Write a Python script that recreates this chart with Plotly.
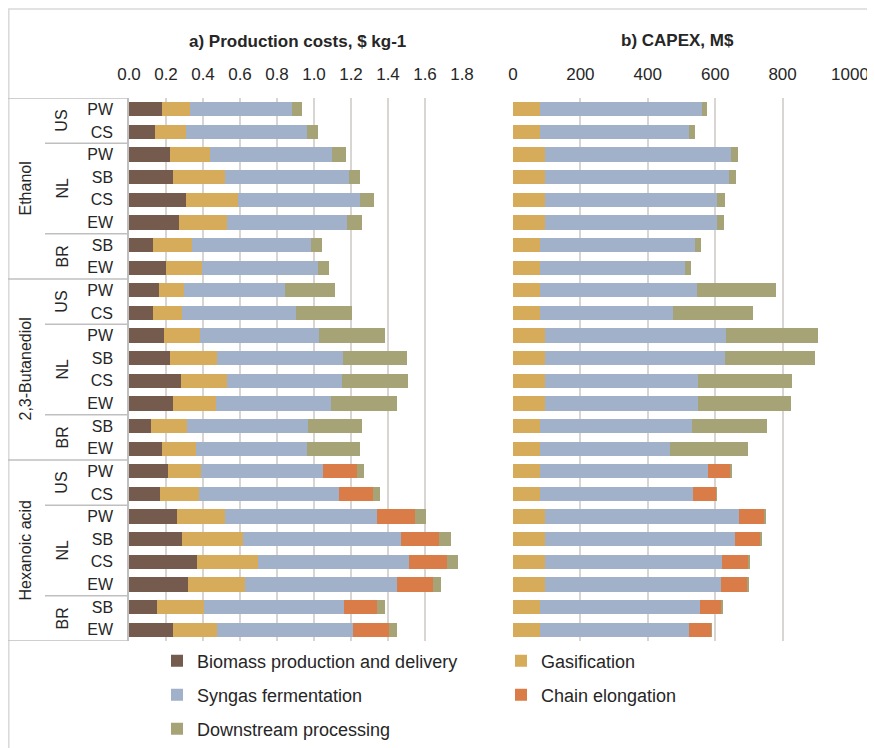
import plotly.graph_objects as go
from plotly.subplots import make_subplots

# categorias (de arriba a abajo)
productos = ["Ethanol", "2,3-Butanediol", "Hexanoic acid"]
regiones = ["US", "NL", "BR"]
materias = {"US": ["PW", "CS"], "NL": ["PW", "SB", "CS", "EW"], "BR": ["SB", "EW"]}

filas = []
for p in productos:
    for r in regiones:
        for m in materias[r]:
            filas.append((p, r, m))
etiquetas_fila = [m for (_, _, m) in filas]

componentes = ["Biomass production and delivery", "Gasification", "Syngas fermentation",
               "Chain elongation", "Downstream processing"]
colores = ["#755B4D", "#D6AB5A", "#A0B1C9", "#D97C47", "#A6A377"]

# a) costes de produccion, $ kg-1
cost_biomasa = [0.18, 0.14, 0.22, 0.24, 0.31, 0.27, 0.13, 0.20,
                0.16, 0.13, 0.19, 0.22, 0.28, 0.24, 0.12, 0.18,
                0.21, 0.17, 0.26, 0.285, 0.366, 0.32, 0.153, 0.24]
cost_gasif = [0.15, 0.17, 0.216, 0.28, 0.28, 0.26, 0.21, 0.196,
              0.135, 0.155, 0.196, 0.257, 0.25, 0.23, 0.195, 0.18,
              0.18, 0.207, 0.26, 0.333, 0.33, 0.306, 0.25, 0.234]
cost_syngas = [0.55, 0.65, 0.66, 0.67, 0.66, 0.65, 0.645, 0.627,
               0.55, 0.62, 0.643, 0.68, 0.62, 0.62, 0.655, 0.60,
               0.656, 0.76, 0.82, 0.85, 0.82, 0.82, 0.76, 0.737]
cost_cadena = [0, 0, 0, 0, 0, 0, 0, 0,
               0, 0, 0, 0, 0, 0, 0, 0,
               0.185, 0.18, 0.205, 0.21, 0.204, 0.198, 0.18, 0.195]
cost_downstream = [0.056, 0.06, 0.078, 0.058, 0.077, 0.08, 0.057, 0.058,
                   0.27, 0.30, 0.355, 0.344, 0.36, 0.36, 0.29, 0.29,
                   0.04, 0.04, 0.058, 0.06, 0.058, 0.042, 0.04, 0.04]

# b) CAPEX, M$
capex_gasif = [81, 81, 94, 94, 94, 94, 79, 79,
               81, 81, 94, 94, 94, 94, 79, 79,
               81, 81, 94, 94, 94, 94, 79, 79]
capex_syngas = [479, 440, 554, 548, 512, 510, 462, 430,
                465, 395, 538, 535, 456, 455, 452, 386,
                499, 453, 578, 564, 526, 523, 475, 442]
capex_cadena = [0, 0, 0, 0, 0, 0, 0, 0,
                0, 0, 0, 0, 0, 0, 0, 0,
                65, 70, 73, 76, 79, 79, 65, 67]
capex_downstream = [17, 20, 21, 21, 22, 22, 18, 19,
                    235, 237, 272, 266, 278, 277, 223, 232,
                    2, 1, 5, 4, 3, 3, 2, 2]

ticks_coste = [0.0, 0.2, 0.4, 0.6, 0.8, 1.0, 1.2, 1.4, 1.6, 1.8]
ticks_capex = [0, 200, 400, 600, 800, 1000]

FUENTE = "Liberation Sans, Arial, sans-serif"
TEXTO = "#262626"
GRIS = "#D9D5D2"
LINEA = "#BFBFBF"

# la pagina tiene 8 px de margen en el body
OFF = 8
W, H = 875 - OFF, 748 - OFF


def fx(px):
    return (px - OFF) / W


def fy(py):
    return 1 - (py - OFF) / H


y_pos = list(range(len(filas)))

fig = make_subplots(rows=1, cols=2, shared_yaxes=True, horizontal_spacing=0.05)

serie_coste = [cost_biomasa, cost_gasif, cost_syngas, cost_cadena, cost_downstream]
serie_capex = [None, capex_gasif, capex_syngas, capex_cadena, capex_downstream]
leyendas = ["legend", "legend", "legend2", "legend2", "legend3"]

for i, nombre in enumerate(componentes):
    fig.add_trace(go.Bar(y=y_pos, x=serie_coste[i], orientation="h", name=nombre,
                         marker=dict(color=colores[i], line_width=0),
                         legend=leyendas[i], legendgroup=nombre), row=1, col=1)
    if serie_capex[i] is not None:
        fig.add_trace(go.Bar(y=y_pos, x=serie_capex[i], orientation="h", name=nombre,
                             marker=dict(color=colores[i], line_width=0),
                             showlegend=False, legendgroup=nombre), row=1, col=2)

fig.update_xaxes(side="top", showgrid=True, gridcolor=GRIS, gridwidth=1.5, zeroline=False,
                 automargin=False, ticks="outside", ticklen=10, tickcolor="rgba(0,0,0,0)",
                 tickfont=dict(size=17, color=TEXTO, family=FUENTE), showline=False)
fig.update_xaxes(range=[0, 1.8], tickvals=ticks_coste, ticktext=[f"{t:.1f}" for t in ticks_coste],
                 domain=[fx(129), fx(462)], row=1, col=1)
fig.update_xaxes(range=[0, 1000], tickvals=ticks_capex, domain=[fx(513), fx(850)], row=1, col=2)

fig.update_yaxes(range=[len(filas) - 0.5, -0.5], domain=[fy(641), fy(98)], showgrid=False,
                 zeroline=False, automargin=False)
fig.update_yaxes(tickvals=y_pos, ticktext=etiquetas_fila, ticks="outside", ticklen=11,
                 tickcolor="rgba(0,0,0,0)", tickfont=dict(size=16, color=TEXTO, family=FUENTE),
                 showline=True, linecolor=LINEA, linewidth=1.5, row=1, col=1)
fig.update_yaxes(showticklabels=False, row=1, col=2)

# marco y tabla de etiquetas jerarquicas
formas = []
formas.append(dict(type="rect", xref="paper", yref="paper", x0=fx(8.8), x1=1.02, y0=-0.02, y1=fy(9),
                   line=dict(color="#D9D9D9", width=1.5)))
anot = []
inicio = 0
for p in productos:
    n_prod = sum(len(materias[r]) for r in regiones)
    formas.append(dict(type="line", xref="paper", yref="y", x0=fx(8), x1=fx(129),
                       y0=inicio - 0.5, y1=inicio - 0.5, line=dict(color=LINEA, width=1.5)))
    anot.append(dict(text=p, xref="paper", yref="y", x=fx(25), y=inicio + (n_prod - 1) / 2,
                     xanchor="center", textangle=-90, showarrow=False,
                     font=dict(size=16, color=TEXTO, family=FUENTE)))
    k = inicio
    for j, r in enumerate(regiones):
        n = len(materias[r])
        if j > 0:
            formas.append(dict(type="line", xref="paper", yref="y", x0=fx(45), x1=fx(129),
                               y0=k - 0.5, y1=k - 0.5, line=dict(color=LINEA, width=1.5)))
        anot.append(dict(text=r, xref="paper", yref="y", x=fx(62), y=k + (n - 1) / 2,
                         xanchor="center", textangle=-90, showarrow=False,
                         font=dict(size=16, color=TEXTO, family=FUENTE)))
        k += n
    inicio += n_prod
formas.append(dict(type="line", xref="paper", yref="y", x0=fx(8), x1=fx(129),
                   y0=inicio - 0.5, y1=inicio - 0.5, line=dict(color=LINEA, width=1.5)))

anot.append(dict(text="<b>a) Production costs, $ kg-1</b>", xref="paper", yref="paper",
                 x=fx(297), y=fy(42), xanchor="center", yanchor="middle", showarrow=False,
                 font=dict(size=17, color=TEXTO, family=FUENTE)))
anot.append(dict(text="<b>b) CAPEX, M$</b>", xref="paper", yref="paper",
                 x=fx(677), y=fy(41), xanchor="center", yanchor="middle", showarrow=False,
                 font=dict(size=17, color=TEXTO, family=FUENTE)))

ley = dict(orientation="h", x=fx(157), xanchor="left", yanchor="middle", entrywidth=299,
           entrywidthmode="pixels", font=dict(size=18, color=TEXTO, family=FUENTE),
           bgcolor="rgba(0,0,0,0)", traceorder="normal")

fig.update_layout(
    width=W, height=H, barmode="stack", bargap=0.37,
    margin=dict(l=0, r=0, t=0, b=0, autoexpand=False),
    paper_bgcolor="white", plot_bgcolor="white",
    font=dict(family=FUENTE, color=TEXTO),
    shapes=formas, annotations=anot,
    legend=dict(ley, y=fy(661)),
    legend2=dict(ley, y=fy(695)),
    legend3=dict(ley, y=fy(729)),
)

fig.write_html("out.html")
